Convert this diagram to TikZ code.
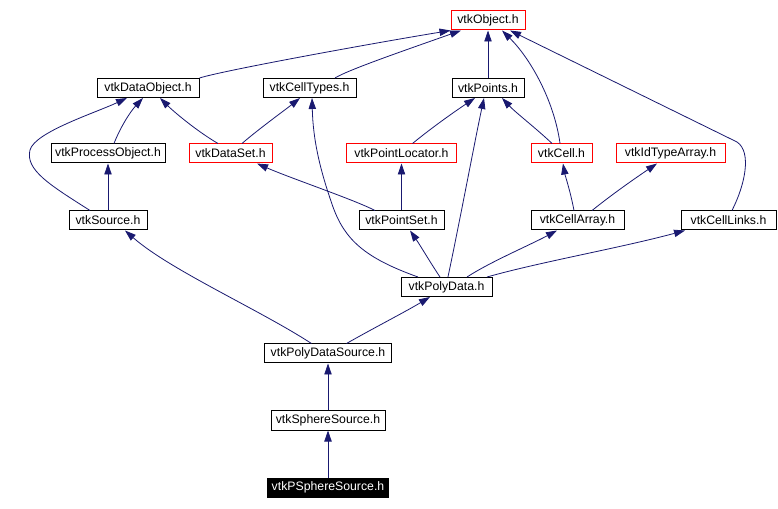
\documentclass[tikz,border=0pt]{standalone}
\usepackage{fontspec}
\setmainfont{Liberation Sans}
\usetikzlibrary{arrows.meta}
\definecolor{edgec}{HTML}{191970}
\begin{document}
\begin{tikzpicture}[x=0.75pt,y=-0.75pt,
  box/.style={draw=black, fill=white, line width=0.75pt, inner sep=0pt, minimum height=14.25pt, font=\fontsize{9.2}{10}\selectfont},
  redbox/.style={box, draw=red},
  blackbox/.style={box, fill=black, text=white},
  edge/.style={draw=edgec, line width=0.6pt, -{Triangle[length=8.25pt,width=5.5pt]}}]
\useasboundingbox (0,0) rectangle (778,509);
\fill[white] (0,0) rectangle (778,509);
% nodes
\node[redbox, minimum width=55.5pt] (obj) at (488,20.5) {vtkObject.h};
\node[box, minimum width=76.5pt] (dataobj) at (148,88) {vtkDataObject.h};
\node[box, minimum width=69.75pt] (celltypes) at (309.5,88) {vtkCellTypes.h};
\node[box, minimum width=54pt] (points) at (488,88) {vtkPoints.h};
\node[box, minimum width=85.5pt] (procobj) at (108,153.5) {vtkProcessObject.h};
\node[redbox, minimum width=62.25pt] (dataset) at (230.5,153.5) {vtkDataSet.h};
\node[redbox, minimum width=82.5pt] (pointloc) at (401.5,153.5) {vtkPointLocator.h};
\node[redbox, minimum width=45.75pt] (cell) at (561.5,153.5) {vtkCell.h};
\node[redbox, minimum width=81.75pt] (idtype) at (670.5,153.5) {vtkIdTypeArray.h};
\node[box, minimum width=58.5pt] (source) at (108,220.5) {vtkSource.h};
\node[box, minimum width=63.75pt] (pointset) at (401.5,220.5) {vtkPointSet.h};
\node[box, minimum width=69.75pt] (cellarray) at (577.5,220.5) {vtkCellArray.h};
\node[box, minimum width=71.25pt] (celllinks) at (728.5,220.5) {vtkCellLinks.h};
\node[box, minimum width=68.25pt] (polydata) at (446.5,287) {vtkPolyData.h};
\node[box, minimum width=95.25pt] (pds) at (328,353.5) {vtkPolyDataSource.h};
\node[box, minimum width=85.5pt] (sphere) at (328,420.5) {vtkSphereSource.h};
\node[blackbox, minimum width=90.75pt] (psphere) at (328,487.5) {vtkPSphereSource.h};
% edges
\draw[edge] (dataobj.north east) .. controls (225,70) and (380,42) .. (obj.south west);
\draw[edge] ([xshift=19.1pt]celltypes.north) .. controls (348,70) and (400,52) .. ([xshift=-20.25pt]obj.south);
\draw[edge] (points.north) -- (obj.south);
\draw[edge] ([xshift=-1.1pt]cell.north) .. controls (554,100) and (530,58) .. ([xshift=10.5pt]obj.south);
\draw[edge] ([xshift=2.6pt]celllinks.north) .. controls (745,185) and (752,152) .. (737,142) -- ([xshift=16.5pt]obj.south);
\draw[edge] ([xshift=4.5pt]procobj.north) .. controls (120,128) and (130,112) .. ([xshift=-3.75pt]dataobj.south);
\draw[edge] ([xshift=-9.4pt]dataset.north) .. controls (195,130) and (172,110) .. ([xshift=9pt]dataobj.south);
\draw[edge] ([xshift=8.6pt]dataset.north) .. controls (260,128) and (285,110) .. ([xshift=-7.1pt]celltypes.south);
\draw[edge] ([xshift=-13.5pt]source.north) .. controls (50,185) and (25,170) .. (30,150) .. controls (35,132) and (95,113) .. ([xshift=-15.75pt]dataobj.south);
\draw[edge] (source.north) -- (procobj.south);
\draw[edge] ([xshift=-19.9pt]pointset.north) .. controls (355,200) and (290,178) .. ([xshift=19.9pt]dataset.south);
\draw[edge] ([xshift=8.25pt]pointloc.north) .. controls (435,125) and (460,108) .. ([xshift=-9.75pt]points.south);
\draw[edge] (pointset.north) -- (pointloc.south);
\draw[edge] ([xshift=-7.1pt]cell.north) .. controls (538,130) and (515,112) .. ([xshift=10.5pt]points.south);
\draw[edge] ([xshift=-2.6pt]cellarray.north) .. controls (570,190) and (565,175) .. ([xshift=1.1pt]cell.south);
\draw[edge] ([xshift=10.9pt]cellarray.north) .. controls (615,192) and (640,175) .. ([xshift=-10.1pt]idtype.south);
\draw[edge] ([xshift=-21.4pt]polydata.north) .. controls (365,258) and (345,240) .. (333,207) .. controls (320,170) and (313,140) .. ([xshift=1.9pt]celltypes.south);
\draw[edge] ([xshift=-4.9pt]polydata.north) .. controls (430,262) and (420,245) .. ([xshift=6.4pt]pointset.south);
\draw[edge] ([xshift=1.1pt]polydata.north) .. controls (460,220) and (475,140) .. ([xshift=-3pt]points.south);
\draw[edge] ([xshift=15.4pt]polydata.north) .. controls (490,262) and (530,245) .. ([xshift=-15.4pt]cellarray.south);
\draw[edge] ([xshift=30.4pt]polydata.north) .. controls (540,262) and (620,248) .. ([xshift=-32.6pt]celllinks.south);
\draw[edge] ([xshift=-12.4pt]pds.north) .. controls (260,310) and (170,270) .. ([xshift=12.75pt]source.south);
\draw[edge] ([xshift=13.9pt]pds.north) .. controls (370,330) and (405,312) .. ([xshift=-12.4pt]polydata.south);
\draw[edge] (sphere.north) -- (pds.south);
\draw[edge] (psphere.north) -- (sphere.south);
\end{tikzpicture}
\end{document}
